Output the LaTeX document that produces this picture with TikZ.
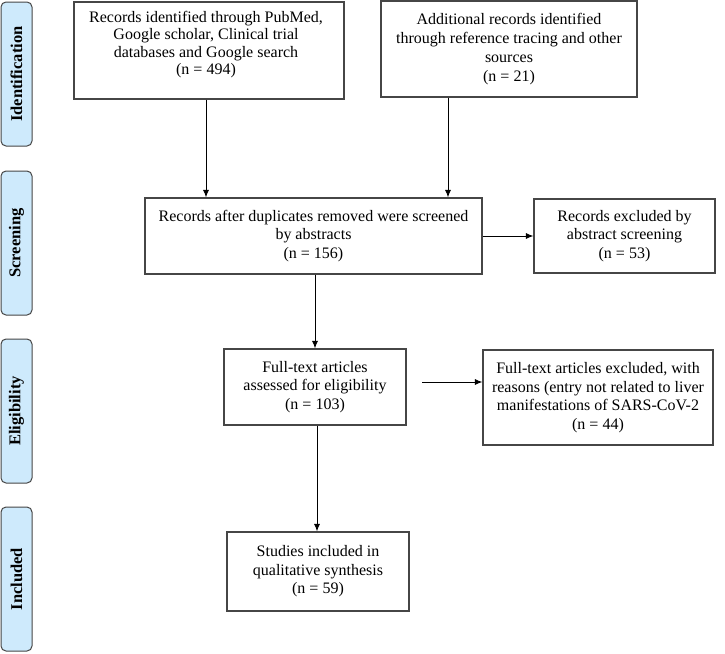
\documentclass[tikz,border=0pt]{standalone}
\usepackage{fontspec}
\setmainfont{Liberation Serif}
\usetikzlibrary{arrows.meta}
\definecolor{sidefill}{RGB}{206,234,252}
\definecolor{edgegray}{RGB}{70,70,70}
\begin{document}
\begin{tikzpicture}[x=1pt,y=-1pt,
  box/.style={draw=edgegray, line width=1.1pt, align=center, inner sep=0pt, font=\fontsize{16}{18.5}\selectfont},
  side/.style={draw=edgegray, fill=sidefill, rounded corners=5pt, line width=1pt, minimum width=31pt, minimum height=144pt, inner sep=0pt},
  sidetext/.style={rotate=90, font=\bfseries\fontsize{16.5}{18}\selectfont},
  arr/.style={-{Latex[length=7.5pt,width=6pt]}, line width=0.9pt}]
\fill[white] (0,0) rectangle (725,653);
\useasboundingbox (0,0) rectangle (725,653);
% side labels
\node[side] (s1) at (16.5,74) {};
\node[side] (s2) at (16.5,243) {};
\node[side] (s3) at (16.5,411) {};
\node[side] (s4) at (16.5,579) {};
\node[sidetext] (t1) at (s1) {Identification};
\node[sidetext] (t2) at (s2) {Screening};
\node[sidetext] (t3) at (s3) {Eligibility};
\node[sidetext] (t4) at (s4) {Included};
% boxes
\node[box, minimum width=270pt, minimum height=97pt] (b1) at (209,50.5) {};
\node[font=\fontsize{16}{17.5}\selectfont, align=center, anchor=north, inner sep=0pt] (b1t) at (206,11) {Records identified through PubMed,\\Google scholar, Clinical trial\\databases and Google search\\(n = 494)};
\node[box, minimum width=256pt, minimum height=96pt, font=\fontsize{16}{19}\selectfont] (b2) at (509,49) {Additional records identified\\through reference tracing and other\\sources\\(n = 21)};
\node[box, minimum width=337pt, minimum height=76pt] (b3) at (313.5,236) {Records after duplicates removed were screened\\by abstracts\\(n = 156)};
\node[box, minimum width=181pt, minimum height=74pt] (b4) at (624.5,236) {Records excluded by\\abstract screening\\(n = 53)};
\node[box, minimum width=182pt, minimum height=76pt] (b5) at (315,387) {Full-text articles\\assessed for eligibility\\(n = 103)};
\node[box, minimum width=230pt, minimum height=95pt] (b6) at (598,397.5) {Full-text articles excluded, with\\reasons (entry not related to liver\\manifestations of SARS-CoV-2\\(n = 44)};
\node[box, minimum width=182pt, minimum height=79pt] (b7) at (318,571.5) {Studies included in\\qualitative synthesis\\(n = 59)};
% connectors
\coordinate (c1) at (206,0);
\coordinate (c2) at (448,0);
\coordinate (c5) at (422,382);
\coordinate (c7) at (317,0);
\draw[arr] (b1.south -| c1) -- (b3.north -| c1);
\draw[arr] (b2.south -| c2) -- (b3.north -| c2);
\draw[arr] (b3.east) -- (b4.west);
\draw[arr] (b3.south -| b5.north) -- (b5.north);
\draw[arr] (c5) -- (c5 -| b6.west);
\draw[arr] (b5.south -| c7) -- (b7.north -| c7);
\end{tikzpicture}
\end{document}
